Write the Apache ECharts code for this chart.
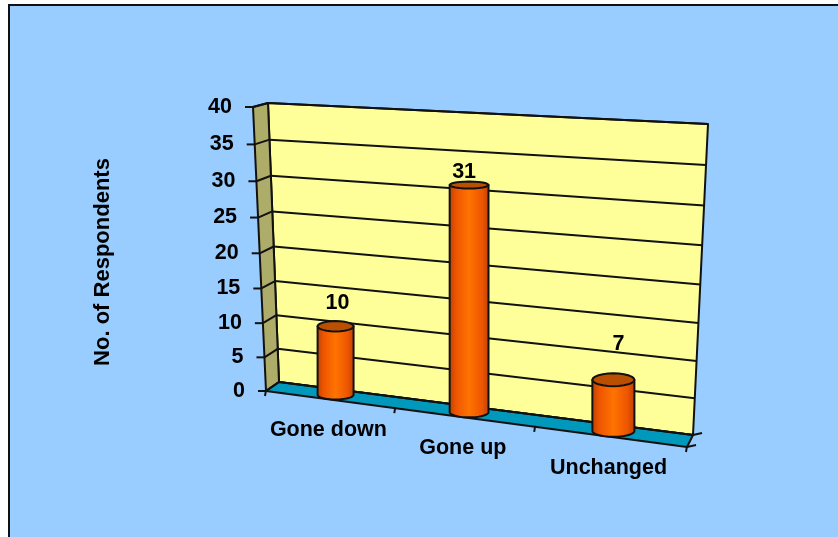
<!DOCTYPE html>
<html>
<head>
<meta charset="utf-8">
<style>
  html, body { margin: 0; padding: 0; background: #fff; }
  #main { width: 838px; height: 537px; }
</style>
<script src="https://cdn.jsdelivr.net/npm/echarts@6/dist/echarts.min.js"></script>
</head>
<body>
<div id="main"></div>
<script>
var categories = ['Gone down', 'Gone up', 'Unchanged'];
var respondents = [10, 31, 7];
var yTicks = [0, 5, 10, 15, 20, 25, 30, 35, 40];
var xBoundaries = [-0.5, 0.5, 1.5, 2.5];
var axisTitle = 'No. of Respondents';

var font = 'bold 21.5px "Liberation Sans", Arial, sans-serif';
var lineColor = '#111111';

// corners of the fake 3d box: top-left, top-right, bottom-right, bottom-left
var backQuad = [[268, 103], [708, 124], [693, 435], [279, 382]];
var frontQuad = [[253, 107], [702, 128], [687, 447], [266, 391]];
var midQuad = backQuad.map(function (p, i) {
  return [(p[0] + frontQuad[i][0]) / 2, (p[1] + frontQuad[i][1]) / 2];
});

// label nudges for the value labels, they sit oddly in the original
var valueNudge = [[2, -23], [-5, -13], [5, -36]];

// unit square -> quad, u goes right and v goes up
function makePlane(q) {
  var x0 = q[3][0], y0 = q[3][1];
  var x1 = q[2][0], y1 = q[2][1];
  var x2 = q[1][0], y2 = q[1][1];
  var x3 = q[0][0], y3 = q[0][1];
  var dx1 = x1 - x2, dx2 = x3 - x2, sx = x0 - x1 + x2 - x3;
  var dy1 = y1 - y2, dy2 = y3 - y2, sy = y0 - y1 + y2 - y3;
  var den = dx1 * dy2 - dx2 * dy1;
  var g = (sx * dy2 - dx2 * sy) / den;
  var h = (dx1 * sy - sx * dy1) / den;
  var a = x1 - x0 + g * x1, b = x3 - x0 + h * x3;
  var d = y1 - y0 + g * y1, e = y3 - y0 + h * y3;
  return function (u, v) {
    var w = g * u + h * v + 1;
    return [(a * u + b * v + x0) / w, (d * u + e * v + y0) / w];
  };
}

var back = makePlane(backQuad);
var front = makePlane(frontQuad);
var mid = makePlane(midQuad);

// grid pixel -> projected pixel on one of the planes
function project(plane, params, p) {
  var cs = params.coordSys;
  return plane((p[0] - cs.x) / cs.width, (cs.y + cs.height - p[1]) / cs.height);
}

function line(a, b, width) {
  return {
    type: 'line',
    shape: { x1: a[0], y1: a[1], x2: b[0], y2: b[1] },
    style: { stroke: lineColor, lineWidth: width || 2 }
  };
}

function poly(points, fill) {
  return {
    type: 'polygon',
    shape: { points: points },
    style: { fill: fill, stroke: lineColor, lineWidth: 2, lineJoin: 'round' }
  };
}

function label(text, x, y, align) {
  return {
    type: 'text',
    style: {
      text: text, x: x, y: y, font: font, fill: '#000',
      textAlign: align || 'center', textVerticalAlign: 'middle'
    }
  };
}

function renderBox(params) {
  var bl = back(0, 0), br = back(1, 0), tl = back(0, 1), tr = back(1, 1);
  var fbl = front(0, 0), fbr = front(1, 0), ftl = front(0, 1);
  return {
    type: 'group',
    children: [
      poly([tl, tr, br, bl], '#ffff99'),
      poly([tl, bl, fbl, ftl], '#aeac69'),
      poly([bl, br, fbr, fbl], '#0099bb'),
      line(br, [br[0] + 9, br[1] - 2]),
      line(fbr, [fbr[0] + 9, fbr[1] - 2])
    ]
  };
}

function renderGridLine(params, api) {
  var value = api.value(1);
  var cs = params.coordSys;
  var y = api.coord([0, value])[1];
  var left = project(back, params, [cs.x, y]);
  var right = project(back, params, [cs.x + cs.width, y]);
  var edge = project(front, params, [cs.x, y]);
  return {
    type: 'group',
    children: [
      line(left, right),
      line(left, edge),
      line(edge, [edge[0] - 8, edge[1]]),
      label(String(value), edge[0] - 21, edge[1], 'right')
    ]
  };
}

function renderXTick(params, api) {
  var cs = params.coordSys;
  var x = cs.x + (api.value(0) + 0.5) * cs.width / categories.length;
  var p = project(front, params, [x, cs.y + cs.height]);
  return line([p[0], p[1] - 1], [p[0] - 1, p[1] + 5]);
}

function halfEllipse(cx, cy, rx, ry, from, to) {
  var pts = [];
  for (var i = 0; i <= 24; i++) {
    var t = from + (to - from) * i / 24;
    pts.push([cx + rx * Math.cos(t), cy + ry * Math.sin(t)]);
  }
  return pts;
}

function depthAt(params, p) {
  return project(front, params, p)[1] - project(back, params, p)[1];
}

function renderBar(params, api) {
  var i = api.value(0);
  var top = api.coord([i, api.value(1)]);
  var base = api.coord([i, 0]);
  var hw = api.size([1, 0])[0] * 0.14;

  // cylinders stand upright, so x comes from the base only
  var baseC = project(mid, params, base);
  var topY = project(mid, params, top)[1];
  var rx = (project(mid, params, [base[0] + hw, base[1]])[0] - project(mid, params, [base[0] - hw, base[1]])[0]) / 2;
  var ryTop = depthAt(params, top) * 0.62;
  var ryBase = depthAt(params, base) * 0.5;

  var body = [[baseC[0] - rx, topY], [baseC[0] + rx, topY]]
    .concat(halfEllipse(baseC[0], baseC[1], rx, ryBase, 0, Math.PI));

  var cyl = poly(body, {
    type: 'linear', x: 0, y: 0, x2: 1, y2: 0,
    colorStops: [
      { offset: 0, color: '#b84000' },
      { offset: 0.18, color: '#ee5500' },
      { offset: 0.5, color: '#ff7300' },
      { offset: 0.82, color: '#ee5500' },
      { offset: 1, color: '#b84000' }
    ]
  });
  var cap = poly(halfEllipse(baseC[0], topY, rx, ryTop, 0, Math.PI * 2), '#bb4f00');
  var catPos = project(front, params, base);

  return {
    type: 'group',
    children: [
      cyl,
      cap,
      label(String(api.value(1)), baseC[0] + valueNudge[i][0], topY + valueNudge[i][1]),
      label(categories[i], catPos[0] - 1, catPos[1] + 31)
    ]
  };
}

var myChart = echarts.init(document.getElementById('main'));

var option = {
  animation: false,
  backgroundColor: '#ffffff',
  graphic: [{
    type: 'rect',
    shape: { x: 9, y: 5, width: 840, height: 545 },
    style: { fill: '#99ccff', stroke: '#111', lineWidth: 2 },
    z: -10
  }],
  grid: { left: 268, top: 120, width: 425, height: 284 },
  xAxis: { type: 'category', data: categories, show: false },
  yAxis: {
    type: 'value', min: 0, max: 40, interval: 5,
    name: axisTitle,
    nameLocation: 'middle',
    nameGap: 154,
    nameRotate: 90,
    nameTextStyle: { fontFamily: '"Liberation Sans", Arial, sans-serif', fontWeight: 'bold', fontSize: 22, color: '#000' },
    axisLine: { show: false },
    axisTick: { show: false },
    axisLabel: { show: false },
    splitLine: { show: false }
  },
  series: [
    { type: 'custom', name: 'box', renderItem: renderBox, data: [[0, 0]], silent: true },
    { type: 'custom', name: 'gridlines', renderItem: renderGridLine, data: yTicks.map(function (v) { return [0, v]; }), silent: true },
    { type: 'custom', name: 'xticks', renderItem: renderXTick, data: xBoundaries.map(function (b) { return [b, 0]; }), encode: { x: 0, y: 1 }, dimensions: ['b', 'v'], silent: true },
    { type: 'custom', name: 'No. of Respondents', renderItem: renderBar, data: respondents.map(function (v, i) { return [i, v]; }) }
  ]
};

myChart.setOption(option);
</script>
</body>
</html>
